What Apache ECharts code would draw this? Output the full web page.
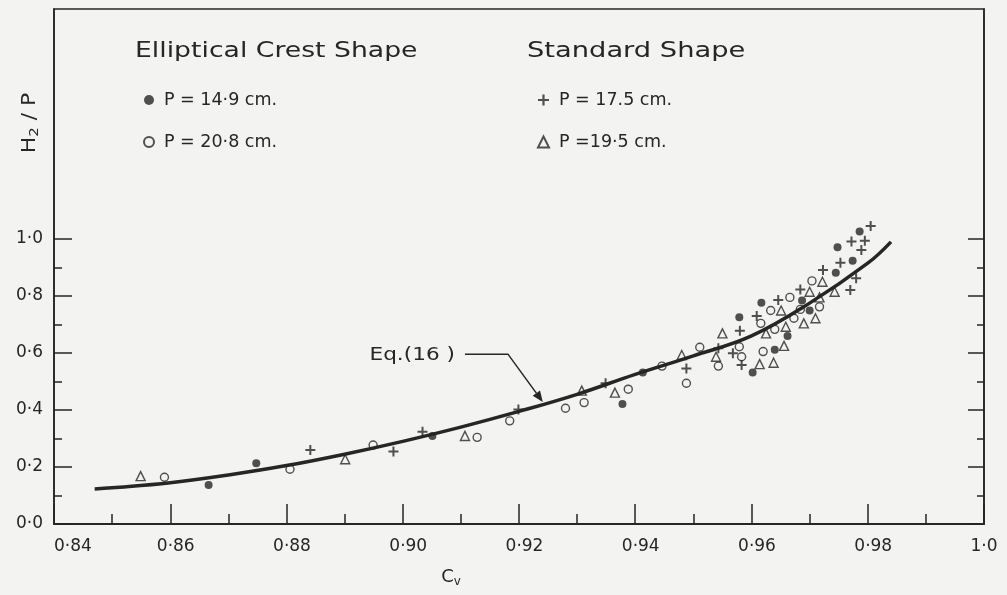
<!DOCTYPE html>
<html>
<head>
<meta charset="utf-8">
<script src="https://cdn.jsdelivr.net/npm/echarts@6/dist/echarts.min.js"></script>
<style>
  html, body { margin: 0; padding: 0; background: #f3f3f1; }
  #chart { width: 1007px; height: 595px; }
</style>
</head>
<body>
<div id="chart"></div>
<script>
// Relative head H2/P against velocity coefficient Cv

// Elliptical crest shape, P = 14.9 cm (filled circles)
const ellip149 = [
  [0.8666, 0.137], [0.8748, 0.213], [0.9051, 0.309], [0.9378, 0.421], [0.9413, 0.532],
  [0.9602, 0.532], [0.9579, 0.725], [0.9617, 0.776], [0.9640, 0.611], [0.9662, 0.660],
  [0.9687, 0.784], [0.9700, 0.749], [0.9745, 0.882], [0.9774, 0.924], [0.9748, 0.971],
  [0.9786, 1.026]
];
// Elliptical crest shape, P = 20.8 cm (open circles)
const ellip208 = [
  [0.8590, 0.164], [0.8806, 0.192], [0.8949, 0.277], [0.9128, 0.304], [0.9184, 0.362],
  [0.9280, 0.406], [0.9312, 0.426], [0.9388, 0.473], [0.9446, 0.554], [0.9488, 0.494],
  [0.9511, 0.620], [0.9543, 0.554], [0.9579, 0.622], [0.9583, 0.587], [0.9620, 0.605],
  [0.9616, 0.704], [0.9640, 0.683], [0.9633, 0.749], [0.9673, 0.722], [0.9666, 0.795],
  [0.9684, 0.753], [0.9704, 0.853], [0.9717, 0.762]
];
// Standard shape, P = 17.5 cm (plus signs)
const std175 = [
  [0.8841, 0.260], [0.8984, 0.254], [0.9034, 0.324], [0.9199, 0.402], [0.9349, 0.494],
  [0.9488, 0.546], [0.9543, 0.617], [0.9568, 0.599], [0.9583, 0.558], [0.9580, 0.678],
  [0.9609, 0.730], [0.9646, 0.786], [0.9684, 0.823], [0.9723, 0.891], [0.9753, 0.917],
  [0.9770, 0.821], [0.9780, 0.862], [0.9789, 0.961], [0.9772, 0.991], [0.9795, 0.994],
  [0.9805, 1.046]
];
// Standard shape, P = 19.5 cm (open triangles)
const std195 = [
  [0.8549, 0.168], [0.8901, 0.227], [0.9107, 0.309], [0.9308, 0.468], [0.9365, 0.461],
  [0.9480, 0.593], [0.9539, 0.587], [0.9550, 0.669], [0.9614, 0.561], [0.9638, 0.566],
  [0.9625, 0.669], [0.9656, 0.625], [0.9659, 0.692], [0.9651, 0.749], [0.9690, 0.704],
  [0.9710, 0.722], [0.9700, 0.815], [0.9717, 0.795], [0.9722, 0.850], [0.9743, 0.815]
];

// Eq. (16) curve
const eqCv  = [0.847, 0.85, 0.86, 0.87, 0.88, 0.89, 0.90, 0.91, 0.92, 0.93, 0.94, 0.95, 0.96, 0.97, 0.98, 0.984];
const eqH2P = [0.123, 0.127, 0.145, 0.172, 0.205, 0.245, 0.290, 0.340, 0.395, 0.455, 0.525, 0.590, 0.660, 0.775, 0.915, 0.990];

// Tick values
const yMajorTicks = [0, 0.2, 0.4, 0.6, 0.8, 1.0];
const yMinorTicks = [0.1, 0.3, 0.5, 0.7, 0.9];

const INK = '#262626';
const FONT = 'DejaVu Sans';
const Y_MAX = 1.807;

// x labels: the end labels sit flush, the inner ones a little right of their tick
const fmtX = v => {
  if (Math.abs(v - 1) < 1e-9) return '{e|1·0}';
  const s = v.toFixed(2).replace('.', '·');
  return Math.abs(v - 0.84) < 1e-9 ? '{e|' + s + '}' : '{n|' + s + '}';
};
const fmtY = v => v.toFixed(1).replace('.', '·');

const chart = echarts.init(document.getElementById('chart'), null, { renderer: 'canvas' });

function yAxisDef(position, ticks, len, withLabels, withLine) {
  return {
    type: 'value', position: position, min: 0, max: Y_MAX,
    axisLine: { show: withLine, lineStyle: { color: INK, width: 1.6 } },
    axisTick: { show: true, inside: true, length: len, customValues: ticks,
                lineStyle: { color: INK, width: 1.5 } },
    axisLabel: withLabels ? {
      show: true, customValues: yMajorTicks, formatter: fmtY, margin: 11,
      color: INK, fontFamily: FONT, fontSize: 17
    } : { show: false },
    splitLine: { show: false }
  };
}

const plusPath = 'path://M4,0H6V4H10V6H6V10H4V6H0V4H4Z';
const labelText = { color: INK, fontFamily: FONT, fontSize: 17 };

const option = {
  backgroundColor: '#f3f3f1',
  animation: false,
  grid: {
    left: 54, right: 23, top: 9, bottom: 71,
    show: true, borderColor: INK, borderWidth: 1.6, backgroundColor: 'transparent'
  },
  xAxis: {
    type: 'value', min: 0.84, max: 1.0, interval: 0.02,
    axisLine: { show: true, lineStyle: { color: INK, width: 2 } },
    axisTick: { show: true, inside: true, length: 20, lineStyle: { color: INK, width: 1.5 } },
    minorTick: { show: true, splitNumber: 2, length: 10, lineStyle: { color: INK, width: 1.5 } },
    axisLabel: {
      formatter: fmtX, margin: 14, alignMinLabel: 'left', alignMaxLabel: 'center',
      rich: {
        n: Object.assign({ padding: [0, 0, 0, 11] }, labelText),
        e: Object.assign({}, labelText)
      }
    },
    splitLine: { show: false }
  },
  yAxis: [
    yAxisDef('left', yMajorTicks, 18, true, true),
    yAxisDef('left', yMinorTicks, 8, false, false),
    yAxisDef('right', yMajorTicks, 16, false, true),
    yAxisDef('right', yMinorTicks, 7, false, false)
  ],
  legend: [
    {
      orient: 'vertical', left: 138, top: 86, itemGap: 24,
      itemWidth: 10, itemHeight: 10,
      textStyle: { color: INK, fontFamily: FONT, fontSize: 17.5, padding: [0, 0, 0, 5] },
      data: ['P = 14·9 cm.', 'P = 20·8 cm.']
    },
    {
      orient: 'vertical', left: 532, top: 86, itemGap: 24,
      itemWidth: 11, itemHeight: 11,
      textStyle: { color: INK, fontFamily: FONT, fontSize: 17.5, padding: [0, 0, 0, 5] },
      data: ['P = 17.5 cm.', 'P =19·5 cm.']
    }
  ],
  series: [
    {
      name: 'Eq.(16)', type: 'line', smooth: 0.4, showSymbol: false, silent: true,
      data: eqCv.map((c, i) => [c, eqH2P[i]]),
      lineStyle: { color: INK, width: 3.5 }, z: 2
    },
    {
      name: 'P = 14·9 cm.', type: 'scatter', data: ellip149,
      symbol: 'circle', symbolSize: 8,
      itemStyle: { color: INK }, z: 3
    },
    {
      name: 'P = 20·8 cm.', type: 'scatter', data: ellip208,
      symbol: 'circle', symbolSize: 8,
      itemStyle: { color: 'rgba(0,0,0,0)', borderColor: INK, borderWidth: 1.4 }, z: 3
    },
    {
      name: 'P = 17.5 cm.', type: 'scatter', data: std175,
      symbol: plusPath, symbolSize: 10,
      itemStyle: { color: INK }, z: 3
    },
    {
      name: 'P =19·5 cm.', type: 'scatter', data: std195,
      symbol: 'triangle', symbolSize: 9,
      itemStyle: { color: 'rgba(0,0,0,0)', borderColor: INK, borderWidth: 1.4 }, z: 3
    }
  ]
};

chart.setOption(option);

// Annotations: group headings, axis names and the Eq.(16) pointer
const px = (c, h) => chart.convertToPixel({ gridIndex: 0 }, [c, h]);
const lblStart = px(0.9107, 0.596);
const lblBend = px(0.9181, 0.596);
const tip = px(0.9241, 0.428);
const ang = Math.atan2(tip[1] - lblBend[1], tip[0] - lblBend[0]);
const ah = 11, aw = 4.5;
const base = [tip[0] - ah * Math.cos(ang), tip[1] - ah * Math.sin(ang)];
const arrowHead = [
  tip,
  [base[0] + aw * Math.sin(ang), base[1] - aw * Math.cos(ang)],
  [base[0] - aw * Math.sin(ang), base[1] + aw * Math.cos(ang)]
];

chart.setOption({
  graphic: [
    {
      type: 'text', x: 135, y: 52, scaleX: 1.27, z: 10,
      style: { text: 'Elliptical Crest Shape', fill: INK, font: '21px "DejaVu Sans"', verticalAlign: 'middle' }
    },
    {
      type: 'text', x: 527, y: 52, scaleX: 1.3, z: 10,
      style: { text: 'Standard Shape', fill: INK, font: '21px "DejaVu Sans"', verticalAlign: 'middle' }
    },
    {
      type: 'text', x: 30, y: 123, rotation: Math.PI / 2, scaleX: 1.15, z: 10,
      style: {
        text: 'H{s|2} / P', fill: INK, font: '19px "DejaVu Sans"',
        align: 'center', verticalAlign: 'middle',
        rich: { s: { fontSize: 13, fontFamily: FONT, fill: INK, padding: [10, 0, 0, 0] } }
      }
    },
    {
      type: 'text', x: 451, y: 577, z: 10,
      style: {
        text: 'C{s|v}', fill: INK, font: '18px "DejaVu Sans"',
        align: 'center', verticalAlign: 'middle',
        rich: { s: { fontSize: 12, fontFamily: FONT, fill: INK, padding: [10, 0, 0, 0] } }
      }
    },
    {
      type: 'text', x: lblStart[0] - 10, y: lblStart[1] + 1, scaleX: 1.2, originX: 0, originY: 0, z: 10,
      style: { text: 'Eq.(16 )', fill: INK, font: '18px "DejaVu Sans"', align: 'right', verticalAlign: 'middle' }
    },
    {
      type: 'polyline', z: 10,
      shape: { points: [lblStart, lblBend, base] },
      style: { stroke: INK, lineWidth: 1.5, fill: null }
    },
    {
      type: 'polygon', z: 10,
      shape: { points: arrowHead },
      style: { fill: INK }
    }
  ]
});
</script>
</body>
</html>
